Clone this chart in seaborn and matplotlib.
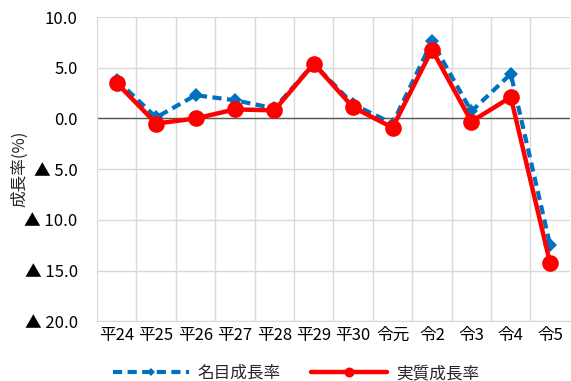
import matplotlib
matplotlib.use('Agg')
import matplotlib.pyplot as plt
import seaborn as sns
import pandas as pd
from matplotlib.ticker import FixedLocator, FuncFormatter

years = ['平24', '平25', '平26', '平27', '平28', '平29', '平30', '令元', '令2', '令3', '令4', '令5']
nominal = [3.8, 0.1, 2.3, 1.8, 1.0, 5.4, 1.4, -0.5, 7.6, 0.7, 4.4, -12.5]
real = [3.5, -0.5, 0.0, 0.9, 0.8, 5.4, 1.1, -0.9, 6.8, -0.3, 2.1, -14.3]
yticks = [10, 5, 0, -5, -10, -15, -20]

sns.set_style('white')
plt.rcParams['font.family'] = ['Noto Sans CJK JP', 'DejaVu Sans']

df = pd.DataFrame({'x': range(len(years)), '名目成長率': nominal, '実質成長率': real})

fig = plt.figure(figsize=(5.71, 3.81), dpi=100)
ax = fig.add_axes([0.170, 0.157, 0.828, 0.798])

sns.lineplot(data=df, x='x', y='名目成長率', ax=ax, color='#0070C0', lw=3,
             linestyle=(0, (2.2, 1.3)), marker='D', markersize=7, markeredgewidth=0,
             label='名目成長率', zorder=3)
sns.lineplot(data=df, x='x', y='実質成長率', ax=ax, color='#FF0000', lw=3.2,
             marker='o', markersize=12, markeredgewidth=0, label='実質成長率', zorder=4)

ax.set_xlim(-0.5, len(years) - 0.5)
ax.set_ylim(-20, 10)
ax.yaxis.set_major_locator(FixedLocator(yticks))
ax.yaxis.set_major_formatter(FuncFormatter(
    lambda v, p: f'{v:.1f}' if v >= 0 else f'▲ {abs(v):.1f}'))
ax.set_xticks(range(len(years)))
ax.set_xticklabels(years)
ax.set_xticks([i + 0.5 for i in range(len(years) - 1)], minor=True)
ax.grid(True, axis='y', color='#d9d9d9', lw=1)
ax.grid(True, axis='x', which='minor', color='#d9d9d9', lw=1)
ax.axhline(0, color='#595959', lw=1, zorder=2)
ax.tick_params(axis='x', which='both', length=0, labelsize=12, colors='#000000', pad=4)
ax.tick_params(axis='y', which='both', length=0, labelsize=12, colors='#000000', pad=14)
for s in ['top', 'right']:
    ax.spines[s].set_visible(False)
for s in ['left', 'bottom']:
    ax.spines[s].set_color('#d9d9d9')
ax.set_xlabel('')
ax.set_ylabel('成長率(%)', fontsize=12, va='center')
ax.yaxis.set_label_coords(-0.163, 0.5)

ax.legend(loc='upper center', bbox_to_anchor=(0.518, 0.042), bbox_transform=fig.transFigure,
          ncol=2, frameon=False, fontsize=12, handlelength=4.6, handletextpad=0.5,
          columnspacing=1.8, markerscale=0.6, borderaxespad=0, borderpad=0)

fig.savefig('out.png', dpi=100)
